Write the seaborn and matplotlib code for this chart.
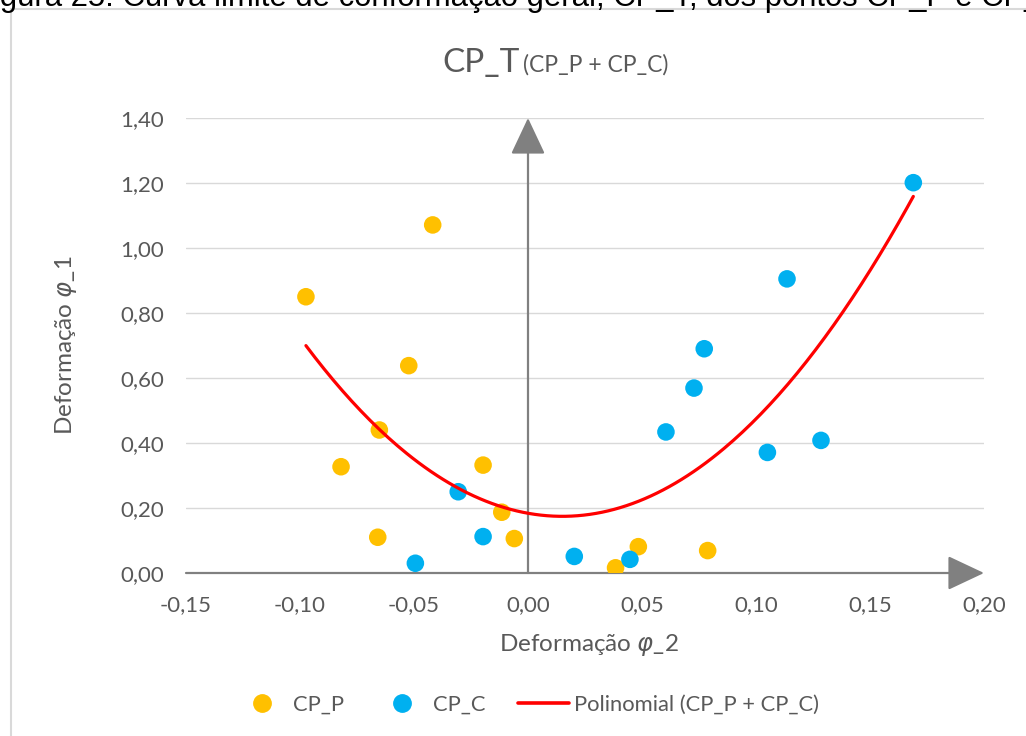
import numpy as np
import pandas as pd
import matplotlib
matplotlib.use("Agg")
from matplotlib import pyplot as plt
from matplotlib.lines import Line2D
from matplotlib.ticker import FuncFormatter
import seaborn as sns

# pontos CP_P (amarelo)
cpp_x = [-0.0974, -0.0418, -0.0523, -0.0652, -0.0820, -0.0197, -0.0115, -0.0659, -0.0060, 0.0484, 0.0384, 0.0788]
cpp_y = [0.850, 1.071, 0.638, 0.440, 0.327, 0.332, 0.187, 0.110, 0.106, 0.081, 0.016, 0.069]

# pontos CP_C (azul)
cpc_x = [-0.0306, -0.0197, -0.0494, 0.0203, 0.0447, 0.0605, 0.0728, 0.0773, 0.1136, 0.1050, 0.1285, 0.1690]
cpc_y = [0.250, 0.112, 0.030, 0.051, 0.042, 0.434, 0.569, 0.690, 0.905, 0.371, 0.408, 1.201]

x_ticks = [-0.15, -0.10, -0.05, 0.00, 0.05, 0.10, 0.15, 0.20]
y_ticks = [0.00, 0.20, 0.40, 0.60, 0.80, 1.00, 1.20, 1.40]

YELLOW = "#FFC000"
BLUE = "#00B0F0"
RED = "#FF0000"
TXT = "#595959"

sns.set_theme(style="white")
plt.rcParams['font.family'] = ['Lato', 'DejaVu Sans']
plt.rcParams['mathtext.fontset'] = 'dejavusans'

df_p = pd.DataFrame({'x': cpp_x, 'y': cpp_y})
df_c = pd.DataFrame({'x': cpc_x, 'y': cpc_y})
df_all = pd.concat([df_p, df_c])

# trendline polinomial ordem 2 (como no Excel)
coef = np.polyfit(df_all['x'], df_all['y'], 2)
xs = np.linspace(df_all['x'].min(), df_all['x'].max(), 200)
trend = pd.DataFrame({'x': xs, 'y': np.polyval(coef, xs)})

fig = plt.figure(figsize=(10.26, 7.36), dpi=100)
ax = fig.add_axes([186/1026, 1-573/736, (984-186)/1026, (573-118)/736])

# grid
for v in y_ticks[1:]:
    ax.axhline(v, color="#d9d9d9", lw=1.0, zorder=0)

sns.scatterplot(data=df_p, x='x', y='y', color=YELLOW, s=160, edgecolor='none', ax=ax, zorder=3)
sns.scatterplot(data=df_c, x='x', y='y', color=BLUE, s=160, edgecolor='none', ax=ax, zorder=3)
sns.lineplot(data=trend, x='x', y='y', color=RED, lw=2.3, ax=ax, zorder=4, sort=False)

ax.set_xlim(-0.15, 0.20)
ax.set_ylim(0, 1.40)
ax.set_xticks(x_ticks)
ax.set_yticks(y_ticks)
fmt = FuncFormatter(lambda v, p: f"{v:.2f}".replace('.', ','))
ax.xaxis.set_major_formatter(fmt)
ax.yaxis.set_major_formatter(fmt)
ax.tick_params(axis='both', length=0, labelsize=16, colors=TXT)
ax.tick_params(axis='y', pad=16)
ax.tick_params(axis='x', pad=16)
for sp in ax.spines.values():
    sp.set_visible(False)
ax.set_xlabel('')
ax.set_ylabel('')

# eixos com setas
arr = dict(arrowstyle="-|>,head_length=0.85,head_width=0.4", color="#808080", lw=1.6,
           mutation_scale=27, shrinkA=0, shrinkB=0)
ax.annotate('', xy=(0.20, 0), xytext=(-0.15, 0), arrowprops=arr, annotation_clip=False, zorder=2)
ax.annotate('', xy=(0, 1.40), xytext=(0, 0), arrowprops=arr, annotation_clip=False, zorder=2)

# titulo
fig.text(442/1026, 1-72/736, "CP_T", fontsize=24, color=TXT, ha='left', va='baseline')
fig.text(523/1026, 1-72/736, "(CP_P + CP_C)", fontsize=16.5, color=TXT, ha='left', va='baseline')

# rotulos dos eixos
fig.text(589/1026, 1-645/736, r"Deformação $\varphi$_2", fontsize=17.5, color=TXT, ha='center', va='center')
fig.text(66/1026, 1-345/736, r"Deformação $\varphi$_1", fontsize=17.5, color=TXT, ha='center', va='center',
         rotation=90)

# legenda
handles = [Line2D([], [], marker='o', ls='none', color=YELLOW, markersize=12.5),
           Line2D([], [], marker='o', ls='none', color=BLUE, markersize=12.5),
           Line2D([], [], color=RED, lw=2.6)]
fig.legend(handles, ["CP_P", "CP_C", "Polinomial (CP_P + CP_C)"], loc='center',
           bbox_to_anchor=(528/1026, 1-705/736), ncol=3, frameon=False, fontsize=15.8,
           handlelength=2.3, handletextpad=0.25, columnspacing=1.5, labelcolor=TXT)

# moldura do grafico e legenda da figura (cortada no topo)
fig.add_artist(Line2D([11/1026, 11/1026], [0, 1-9/736], color="#d9d9d9", lw=1.5))
fig.add_artist(Line2D([11/1026, 1], [1-9/736, 1-9/736], color="#d9d9d9", lw=1.5))
fig.text(-26/1026, 1-6/736, "Figura 25. Curva limite de conformação geral, CP_T, dos pontos CP_P e CP_C",
         fontsize=22.3, color="black", family=['Liberation Sans', 'DejaVu Sans'],
         ha='left', va='baseline')

fig.savefig("out.png", dpi=100)
